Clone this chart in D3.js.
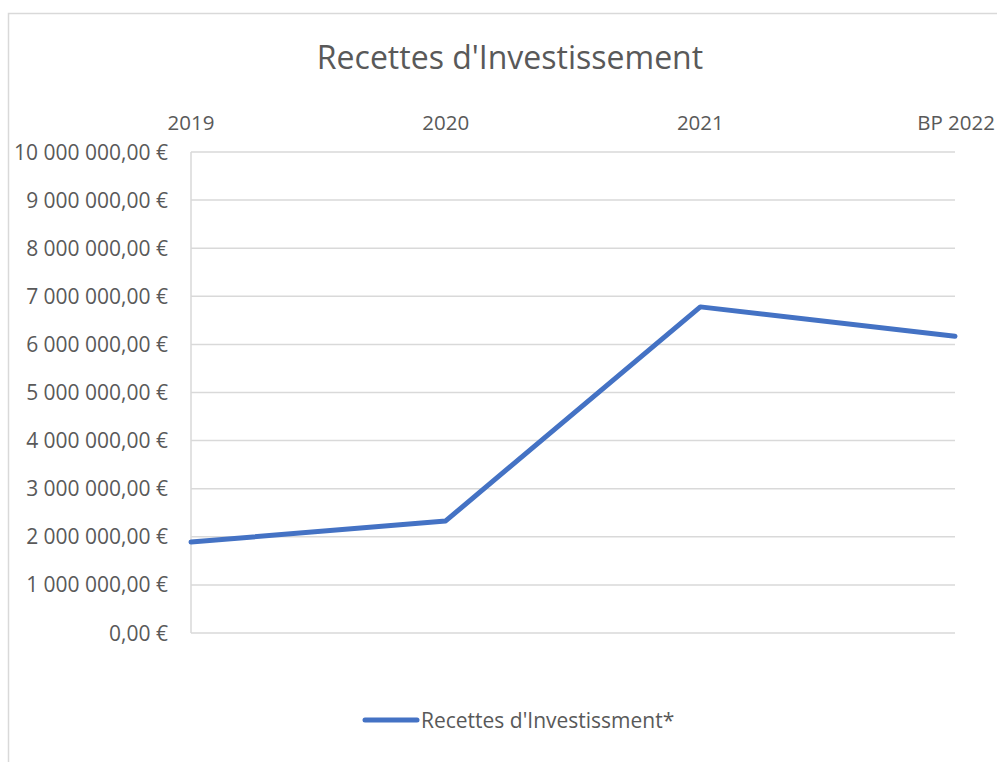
<!DOCTYPE html>
<html>
<head>
  <meta charset="utf-8">
  <title>Recettes d'Investissement</title>
  <script src="https://d3js.org/d3.v7.min.js"></script>
  <style>
    body { margin: 0; background: #fff; }
    text { font-family: "Open Sans", sans-serif; fill: #595959; }
  </style>
</head>
<body>
<svg width="997" height="762"></svg>
<script>
  // Chart data
  const categories = ["2019", "2020", "2021", "BP 2022"];
  const values = [1890000, 2330000, 6780000, 6170000];
  const yTicks = [0, 1e6, 2e6, 3e6, 4e6, 5e6, 6e6, 7e6, 8e6, 9e6, 1e7];
  const seriesName = "Recettes d'Investissment*";
  const title = "Recettes d'Investissement";

  const svg = d3.select("svg");
  const margin = {left: 191, right: 42, top: 152, bottom: 129};
  const width = 997, height = 762;

  // chart border
  svg.append("rect")
    .attr("x", 8.5).attr("y", 13.5)
    .attr("width", 1000).attr("height", 760)
    .attr("fill", "none").attr("stroke", "#d9d9d9").attr("stroke-width", 1.5);

  const x = d3.scalePoint().domain(categories)
    .range([margin.left, width - margin.right]).padding(0);
  const y = d3.scaleLinear().domain([0, 1e7])
    .range([height - margin.bottom, margin.top]);

  const fmt = v => {
    const s = d3.format(",.2f")(v).replace(/,/g, " ").replace(".", ",");
    return s + " €";
  };

  // gridlines
  svg.append("g").selectAll("line")
    .data(yTicks).enter().append("line")
    .attr("x1", margin.left).attr("x2", width - margin.right)
    .attr("y1", d => y(d)).attr("y2", d => y(d))
    .attr("stroke", "#d9d9d9").attr("stroke-width", 1.5);

  // vertical axis line
  svg.append("line")
    .attr("x1", margin.left).attr("x2", margin.left)
    .attr("y1", y(1e7)).attr("y2", y(0))
    .attr("stroke", "#d9d9d9").attr("stroke-width", 1.5);

  // y labels
  svg.append("g").selectAll("text")
    .data(yTicks).enter().append("text")
    .attr("x", 168).attr("y", d => y(d))
    .attr("dy", "0.36em")
    .attr("text-anchor", "end")
    .style("font-size", "21px")
    .text(fmt);

  // category labels on top
  svg.append("g").selectAll("text")
    .data(categories).enter().append("text")
    .attr("x", d => x(d)).attr("y", 130)
    .attr("text-anchor", (d, i) => i === categories.length - 1 ? "end" : "middle")
    .attr("dx", (d, i) => i === categories.length - 1 ? 40 : 0)
    .style("font-size", "20.5px")
    .text(d => d);

  // title
  svg.append("text")
    .attr("x", 510).attr("y", 69)
    .attr("text-anchor", "middle")
    .style("font-size", "32px")
    .text(title);

  // line
  const line = d3.line()
    .x((d, i) => x(categories[i]))
    .y(d => y(d));
  svg.append("path")
    .datum(values)
    .attr("d", line)
    .attr("fill", "none")
    .attr("stroke", "#4472C4")
    .attr("stroke-width", 5)
    .attr("stroke-linejoin", "round")
    .attr("stroke-linecap", "round");

  // legend
  svg.append("line")
    .attr("x1", 365).attr("x2", 417)
    .attr("y1", 720).attr("y2", 720)
    .attr("stroke", "#4472C4").attr("stroke-width", 5)
    .attr("stroke-linecap", "round");
  svg.append("text")
    .attr("x", 421).attr("y", 728)
    .style("font-size", "21px")
    .text(seriesName);
</script>
</body>
</html>
